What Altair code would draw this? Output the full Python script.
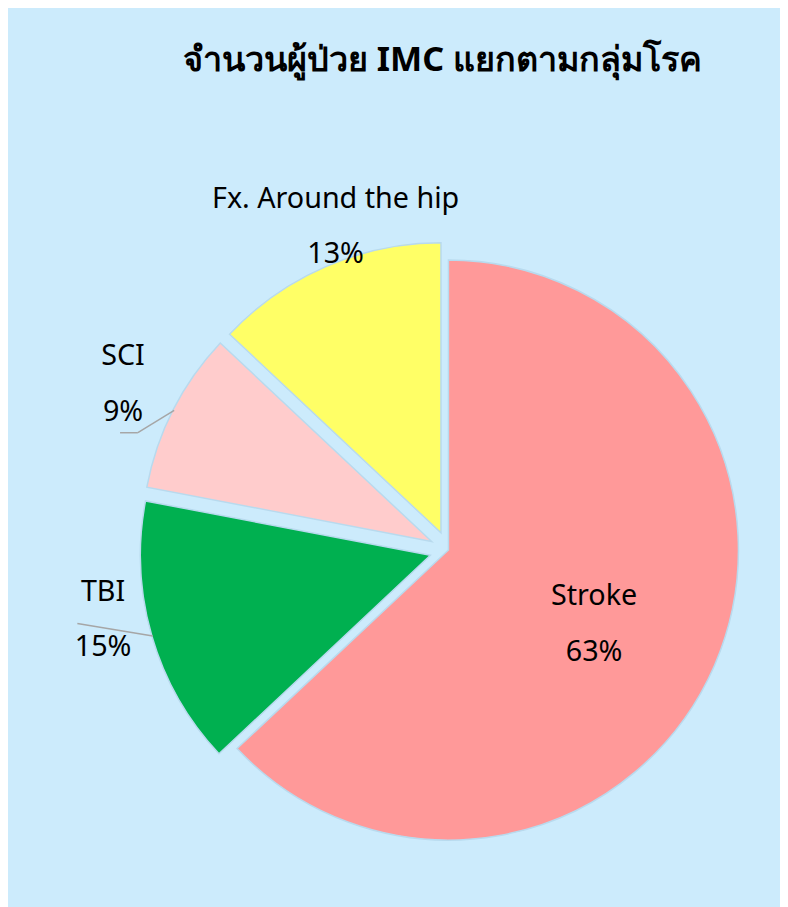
import altair as alt
import pandas as pd

# ---- data ----
categories = ["Stroke", "TBI", "SCI", "Fx. Around the hip"]
values = [63, 15, 9, 13]
colors = ["#FF9999", "#00B050", "#FFCCCC", "#FFFF66"]
title_text = "จำนวนผู้ป่วย IMC แยกตามกลุ่มโรค"

df = pd.DataFrame({"category": categories, "value": values, "idx": list(range(len(values)))})

W, H = 780, 899
CX, CY = 445, 543      # pie centre (pixels in the chart)
R = 293                # outer radius
BG = "#CCEBFC"
FONT = "Noto Sans"

base = alt.Chart(df).transform_window(
    cum="sum(value)", sort=[alt.SortField("idx")], frame=[None, 0]
).transform_joinaggregate(
    total="sum(value)"
).transform_calculate(
    mid="2*PI*(datum.cum - datum.value/2)/datum.total",
    ex="datum.idx == 0 ? 0 : 19",
    lr="[165, 337, 350, 327][datum.idx]",
    la="[3.5, 5.1, 0, 4.4][datum.idx]*PI/180",
    pct="format(datum.value/datum.total, '.0%')",
).transform_calculate(
    cx=f"{CX} + datum.ex*sin(datum.mid)",
    cy=f"{CY} - datum.ex*cos(datum.mid)",
).transform_calculate(
    lx="datum.cx + datum.lr*sin(datum.mid + datum.la)",
    ly="datum.cy - datum.lr*cos(datum.mid + datum.la)",
)

color = alt.Color("category:N", scale=alt.Scale(domain=categories, range=colors), legend=None)

arcs = base.mark_arc(outerRadius=R, stroke="#B8DAEE", strokeWidth=1.5).encode(
    theta=alt.Theta("value:Q", stack=True),
    order=alt.Order("idx:Q"),
    color=color,
    x=alt.X("cx:Q", scale=None, axis=None),
    y=alt.Y("cy:Q", scale=None, axis=None),
)

names = base.mark_text(font=FONT, fontSize=29, color="#000000", baseline="middle", align="center", dy=-28).encode(
    x=alt.X("lx:Q", scale=None), y=alt.Y("ly:Q", scale=None), text="category:N"
)
pcts = base.mark_text(font=FONT, fontSize=29, color="#000000", baseline="middle", align="center", dy=28).encode(
    x=alt.X("lx:Q", scale=None), y=alt.Y("ly:Q", scale=None), text="pct:N"
)

# leader lines for TBI and SCI
lead = base.transform_filter("datum.idx == 1 || datum.idx == 2").transform_calculate(
    x1="datum.cx + 292*sin(datum.mid)",
    y1="datum.cy - 292*cos(datum.mid)",
    bx="datum.lx + (datum.idx == 1 ? -26 : 15)",
    by="datum.ly + (datum.idx == 1 ? 4 : 49)",
    ex2="datum.lx - 3",
)
leaders = lead.mark_rule(color="#A6A6A6", strokeWidth=1.5).encode(
    x=alt.X("x1:Q", scale=None), y=alt.Y("y1:Q", scale=None),
    x2="bx:Q", y2="by:Q",
)
leaders2 = lead.transform_filter("datum.idx == 2").mark_rule(color="#A6A6A6", strokeWidth=1.5).encode(
    x=alt.X("bx:Q", scale=None), y=alt.Y("by:Q", scale=None),
    x2="ex2:Q", y2="by:Q",
)

title = alt.Chart(pd.DataFrame({"t": [title_text]})).mark_text(
    font=FONT, fontSize=34.5, fontWeight="bold", color="#000000", align="center", baseline="middle"
).encode(x=alt.value(439), y=alt.value(49), text="t:N")

chart = alt.layer(arcs, leaders, leaders2, names, pcts, title).properties(
    width=W, height=H, background=BG, padding=0
).configure_view(stroke=None)

chart.save("out.html", embed_options={"renderer": "svg", "actions": False})
